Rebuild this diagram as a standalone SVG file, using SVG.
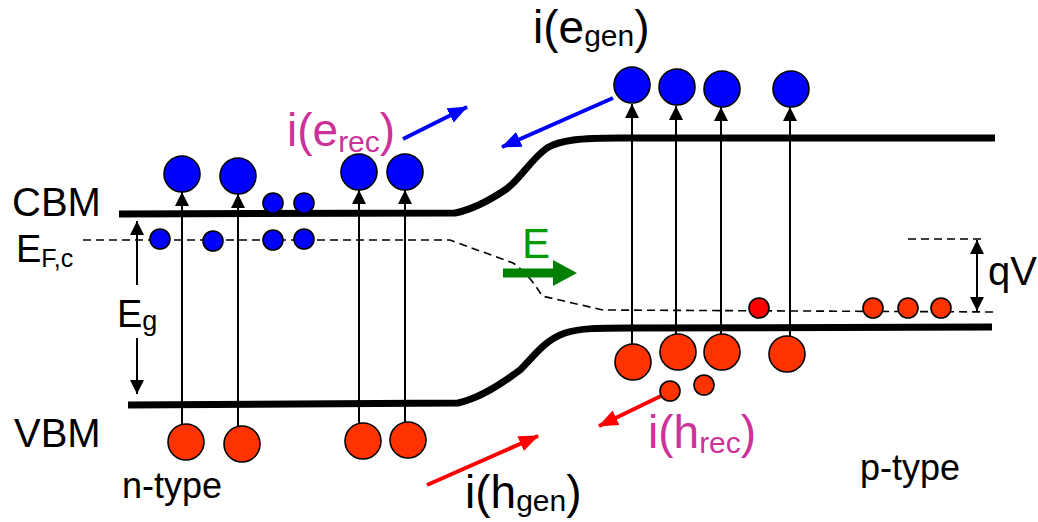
<svg xmlns="http://www.w3.org/2000/svg" width="1038" height="522" viewBox="0 0 1038 522">
<defs>
<style>
text{font-family:"Liberation Sans",Arial,sans-serif;fill:#000}
.lbl{font-size:40px}
.big{font-size:46px}
.sub{font-size:30px}
.mag{fill:#cc3399}
.band{fill:none;stroke:#000;stroke-width:7}
.fermi{fill:none;stroke:#000;stroke-width:1.6;stroke-dasharray:8,5}
.tr{stroke:#000;stroke-width:2;fill:none}
.e{fill:#0000ff;stroke:#000;stroke-width:1.6}
.h{fill:#ff3300;stroke:#000;stroke-width:1.6}
.hr{fill:#ff0000;stroke:#000;stroke-width:1.6}
.ba{stroke:#0000ff;stroke-width:4;fill:none}
.ra{stroke:#ff0000;stroke-width:4;fill:none}
</style>
<marker id="ah" markerUnits="userSpaceOnUse" markerWidth="14" markerHeight="16" viewBox="0 0 14 16" refX="14" refY="8" orient="auto-start-reverse"><path d="M0,1 L14,8 L0,15 Z" fill="#000"/></marker>
<marker id="ab" markerUnits="userSpaceOnUse" markerWidth="20" markerHeight="16" viewBox="0 0 20 16" refX="19" refY="8" orient="auto"><path d="M0,0 L20,8 L0,16 Z" fill="#0000ff"/></marker>
<marker id="ar" markerUnits="userSpaceOnUse" markerWidth="20" markerHeight="16" viewBox="0 0 20 16" refX="19" refY="8" orient="auto"><path d="M0,0 L20,8 L0,16 Z" fill="#ff0000"/></marker>
</defs>

<g id="bands">
<path class="band" d="M119,214 L455,213 C470,210 490,200 505,190 C520,180 530,160 547,148 C560,140 580,138 620,138 L995,138"/>
<path class="band" d="M128,405 L458,403 C480,398 500,385 520,370 C535,355 545,340 565,333 C580,328 600,328 630,328 L992,327"/>
<path class="fermi" d="M83,240 L450,240 L513,263 Q530,275 542,296 L603,310 L995,312"/>
<path class="fermi" d="M908,239 L985,239"/>
</g>

<g id="connectors">
<line class="tr" x1="182" y1="428" x2="182" y2="192" marker-end="url(#ah)"/>
<line class="tr" x1="238" y1="428" x2="238" y2="194" marker-end="url(#ah)"/>
<line class="tr" x1="359" y1="426" x2="359" y2="190" marker-end="url(#ah)"/>
<line class="tr" x1="405" y1="425" x2="405" y2="190" marker-end="url(#ah)"/>
<line class="tr" x1="632" y1="345" x2="632" y2="104" marker-end="url(#ah)"/>
<line class="tr" x1="676" y1="347" x2="676" y2="106" marker-end="url(#ah)"/>
<line class="tr" x1="721" y1="347" x2="721" y2="107" marker-end="url(#ah)"/>
<line class="tr" x1="790" y1="347" x2="790" y2="107" marker-end="url(#ah)"/>
<line class="tr" x1="137" y1="285" x2="137" y2="221" marker-end="url(#ah)"/>
<line class="tr" x1="137" y1="338" x2="137" y2="394" marker-end="url(#ah)"/>
<line class="tr" x1="977" y1="255" x2="977" y2="240" marker-end="url(#ah)"/>
<line class="tr" x1="977" y1="255" x2="977" y2="311" marker-end="url(#ah)"/>
<line class="ba" x1="613" y1="98" x2="502" y2="147" marker-end="url(#ab)"/>
<line class="ba" x1="403" y1="139" x2="467" y2="107" marker-end="url(#ab)"/>
<line class="ra" x1="663" y1="395" x2="599" y2="426" marker-end="url(#ar)"/>
<line class="ra" x1="427" y1="485" x2="538" y2="436" marker-end="url(#ar)"/>
<path d="M503,268.5 H553 V260 L577,273 L553,286 V277.5 H503 Z" fill="#008000"/>
</g>

<g id="electrons">
<circle class="e" cx="182" cy="174" r="18"/>
<circle class="e" cx="238" cy="176" r="18"/>
<circle class="e" cx="359" cy="172" r="18"/>
<circle class="e" cx="405" cy="172" r="18"/>
<circle class="e" cx="273" cy="203" r="10"/>
<circle class="e" cx="304" cy="203" r="10"/>
<circle class="e" cx="160" cy="239" r="10"/>
<circle class="e" cx="213" cy="241" r="10"/>
<circle class="e" cx="273" cy="240" r="10"/>
<circle class="e" cx="304" cy="239" r="10"/>
<circle class="e" cx="632" cy="85" r="18"/>
<circle class="e" cx="677" cy="87" r="18"/>
<circle class="e" cx="722" cy="89" r="18"/>
<circle class="e" cx="791" cy="89" r="18"/>
</g>

<g id="holes">
<circle class="h" cx="186" cy="442" r="18"/>
<circle class="h" cx="242" cy="444" r="18"/>
<circle class="h" cx="363" cy="441" r="18"/>
<circle class="h" cx="408" cy="440" r="18"/>
<circle class="h" cx="633" cy="362" r="18"/>
<circle class="h" cx="678" cy="352" r="18"/>
<circle class="h" cx="722" cy="352" r="18"/>
<circle class="h" cx="787" cy="354" r="18"/>
<circle class="h" cx="670" cy="391" r="10"/>
<circle class="h" cx="704" cy="385" r="10"/>
<circle class="hr" cx="759" cy="308" r="10"/>
<circle class="h" cx="873" cy="308" r="10"/>
<circle class="h" cx="908" cy="308" r="10"/>
<circle class="h" cx="941" cy="308" r="10"/>
</g>

<g id="labels">
<text class="lbl" x="12" y="216">CBM</text>
<text class="lbl" x="14" y="447">VBM</text>
<text x="16" y="262" font-size="38">E<tspan font-size="25" dy="5">F,c</tspan></text>
<text x="117" y="327" font-size="38">E<tspan font-size="27" dy="3">g</tspan></text>
<text x="988" y="285" font-size="40">qV</text>
<text x="122" y="498" font-size="36">n-type</text>
<text x="860" y="480" font-size="36">p-type</text>
<text x="522" y="258" font-size="42" style="fill:#009900">E</text>
<text class="big" x="533" y="43">i(e<tspan class="sub" dy="3">gen</tspan><tspan dy="-3">)</tspan></text>
<text class="big mag" x="287" y="146">i(e<tspan class="sub" dy="6">rec</tspan><tspan dy="-6">)</tspan></text>
<text class="big mag" x="648" y="448">i(h<tspan class="sub" dy="5">rec</tspan><tspan dy="-5">)</tspan></text>
<text class="big" x="465" y="508">i(h<tspan class="sub" dy="3">gen</tspan><tspan dy="-3">)</tspan></text>
</g>
</svg>
